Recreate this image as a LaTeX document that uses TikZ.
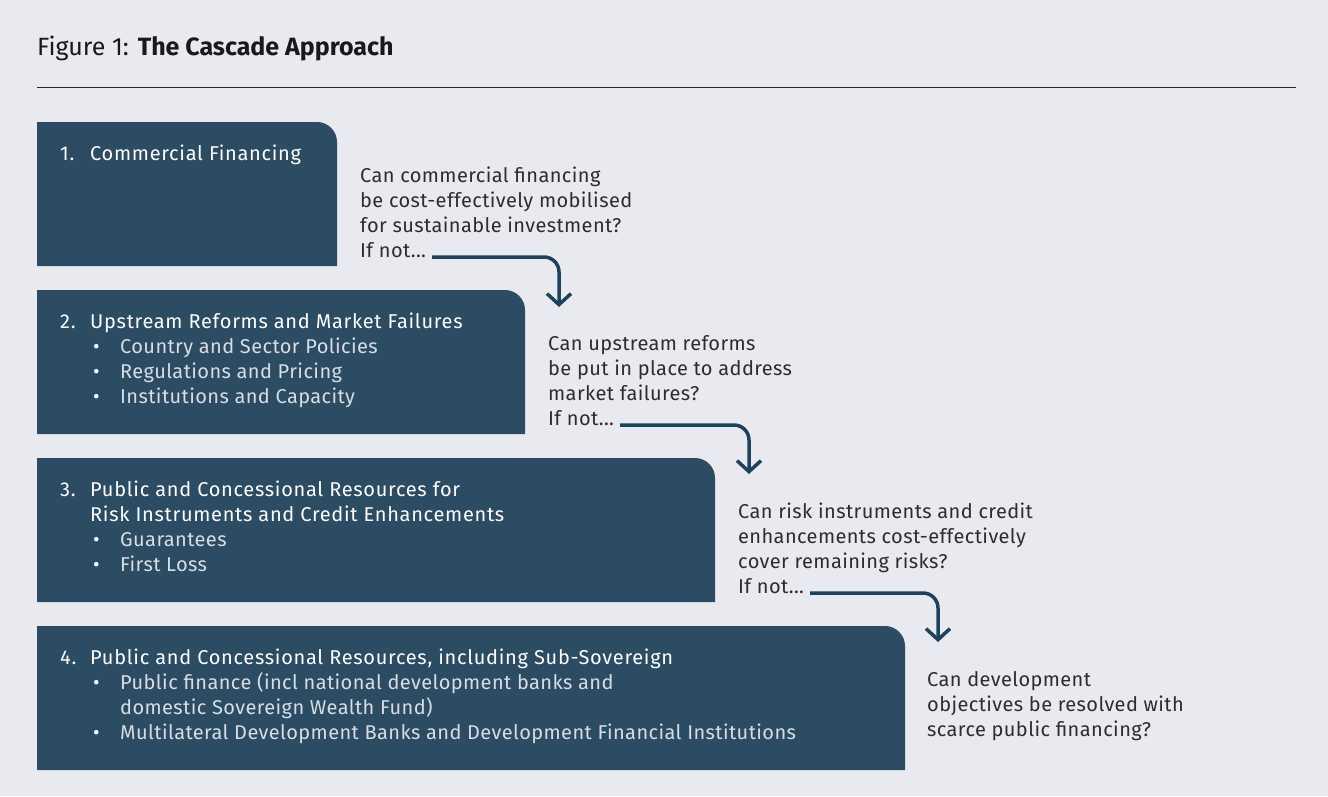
\documentclass[tikz,border=0pt]{standalone}
\usepackage{fontspec}
\setmainfont{Fira Sans}
\newfontfamily\askfamily[LetterSpace=2.0]{Fira Sans}
\newfontfamily\stepfamily[LetterSpace=3.5]{Fira Sans}
\usetikzlibrary{arrows.meta}

\definecolor{bgcol}{RGB}{233,234,240}
\definecolor{boxcol}{RGB}{44,76,99}
\definecolor{arrcol}{RGB}{29,67,92}
\definecolor{qcol}{RGB}{45,45,45}
\definecolor{itemcol}{RGB}{214,221,228}

\newcommand{\numitem}[2]{\makebox[30pt][l]{#1}#2}
\newcommand{\bulletitem}[1]{\hspace*{33pt}\makebox[27pt][l]{\textbullet}{\askfamily\color{itemcol}#1}}

\begin{document}
\begin{tikzpicture}[x=1pt, y=1pt,
    boxtext/.style={anchor=base west, inner sep=0pt, align=left, text=white, font=\stepfamily\fontsize{20}{25}\selectfont},
    question/.style={anchor=base west, inner sep=0pt, align=left, text=qcol, font=\askfamily\fontsize{20}{25}\selectfont},
    flowarrow/.style={arrcol, line width=3.5pt, rounded corners=15pt, -{Straight Barb[length=11pt, width=24pt]}}]
    \useasboundingbox (0,0) rectangle (1328,-796);
    \fill[bgcol] (0,0) rectangle (1328,-796);

    % Title and rule
    \node[anchor=base west, inner sep=0pt, font=\fontsize{25}{30}\selectfont, text=black!90] (title) at (37,-55)
        {Figure 1: \textbf{The Cascade Approach}};
    \draw[line width=1pt, black!85] (37,-87) -- (1296,-87);

    % Cascade boxes (top right corner rounded)
    \foreach \r/\t in {337/122, 525/290, 715/458, 905/626}
        \fill[boxcol] (37,-\t-144) -- (37,-\t) -- (\r-20,-\t)
            arc[start angle=90, end angle=0, radius=20] -- (\r,-\t-144) -- cycle;

    % Box contents (multi-line nodes sit on their last baseline)
    \node[boxtext] (step1) at (60,-160) {\numitem{1.}{Commercial Financing}};
    \node[boxtext] (step2) at (60,-403) {\numitem{2.}{Upstream Reforms and Market Failures}\\
        \bulletitem{Country and Sector Policies}\\
        \bulletitem{Regulations and Pricing}\\
        \bulletitem{Institutions and Capacity}};
    \node[boxtext] (step3) at (60,-571) {\numitem{3.}{Public and Concessional Resources for}\\
        \hspace*{30pt}Risk Instruments and Credit Enhancements\\
        \bulletitem{Guarantees}\\
        \bulletitem{First Loss}};
    \node[boxtext] (step4) at (60,-739) {\numitem{4.}{Public and Concessional Resources, including Sub-Sovereign}\\
        \bulletitem{Public finance (incl national development banks and}\\
        \hspace*{60pt}{\askfamily\color{itemcol}domestic Sovereign Wealth Fund)}\\
        \bulletitem{Multilateral Development Banks and Development Financial Institutions}};

    % Questions
    \node[question] (ask1) at (360,-232) {Can commercial financing\\ be cost-effectively mobilised\\ for sustainable investment?};
    \node[question] (ifnot1) at (360,-257) {If not...};
    \node[question] (ask2) at (548,-400) {Can upstream reforms\\ be put in place to address\\ market failures?};
    \node[question] (ifnot2) at (548,-425) {If not...};
    \node[question] (ask3) at (738,-568) {Can risk instruments and credit\\ enhancements cost-effectively\\ cover remaining risks?};
    \node[question] (ifnot3) at (738,-593) {If not...};
    \node[question] (ask4) at (927,-736) {Can development\\ objectives be resolved with\\ scarce public financing?};

    % Arrows down the cascade
    \coordinate (tip1) at (559,-307);
    \coordinate (tip2) at (749,-474);
    \coordinate (tip3) at (938,-642);
    \foreach \i in {1,2,3}
        \draw[flowarrow] ([xshift=6pt]ifnot\i.base east) -| (tip\i);
\end{tikzpicture}
\end{document}
